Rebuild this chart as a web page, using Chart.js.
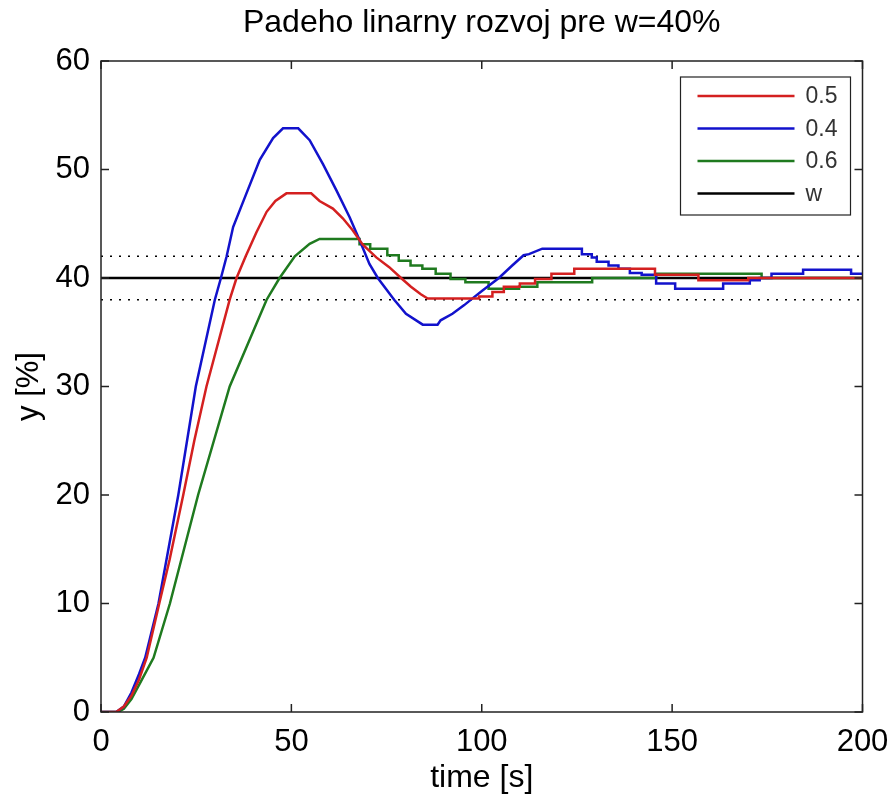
<!DOCTYPE html>
<html>
<head>
<meta charset="utf-8">
<script src="https://cdn.jsdelivr.net/npm/chart.js@4"></script>
<style>
  body { margin: 0; background: #fff; }
  #wrap { width: 895px; height: 802px; }
</style>
</head>
<body>
<div id="wrap"><canvas id="myChart" width="895" height="802"></canvas></div>
<script>
const chartTitle = "Padeho linarny rozvoj pre w=40%";
const xTitle = "time [s]";
const yTitle = "y [%]";
const seriesLabels = ["0.5", "0.4", "0.6", "w"];
const xTicks = [0, 50, 100, 150, 200];
const yTicks = [0, 10, 20, 30, 40, 50, 60];

// 0.5 (red)
const tRed = [0, 4, 6, 8, 10, 12, 15.3, 18, 21.6, 24.5, 27.7, 33.8, 35.6, 38, 40.8, 43.5, 45.8, 48.7, 55.2, 57.4, 60.9, 63.5, 66.1, 68.7, 72.3, 75.7, 78.8, 81.4, 84, 85.8, 99.3, 99.3, 102.8, 102.8, 105.8, 105.8, 110, 110, 114, 114, 118.3, 118.3, 124.3, 124.3, 145.5, 145.5, 156.9, 156.9, 170, 170, 200];
const yRed = [0, 0, 0.5, 1.5, 3, 5, 10, 14, 20, 25, 30, 38, 40, 42, 44.2, 46.1, 47.1, 47.8, 47.8, 47.1, 46.4, 45.5, 44.4, 43.1, 41.9, 41, 40, 39.2, 38.5, 38.1, 38.1, 38.3, 38.3, 38.7, 38.7, 39.2, 39.2, 39.5, 39.5, 39.9, 39.9, 40.4, 40.4, 40.85, 40.85, 40.3, 40.3, 39.8, 39.8, 40, 40];

// 0.4 (blue)
const tBlue = [0, 4, 6, 8, 10, 11.6, 15.1, 20.3, 24.9, 29.9, 31.5, 33, 34.7, 38.2, 41.7, 45.2, 47.8, 51.8, 54.8, 58.3, 61.8, 65.3, 67.9, 70.5, 72.7, 77, 80.1, 84.5, 88.4, 89.2, 92.3, 95.4, 97.5, 100.2, 104.5, 108, 111, 112.4, 115.9, 126.3, 126.3, 128.9, 128.9, 130.2, 130.2, 133.3, 133.3, 135.9, 135.9, 138.9, 138.9, 142, 142, 145.8, 145.8, 150.8, 150.8, 163.4, 163.4, 170.4, 170.4, 173, 173, 176.1, 176.1, 184.4, 184.4, 197, 197, 200];
const yBlue = [0, 0, 0.5, 1.8, 3.5, 5, 10, 20, 30, 38, 40, 42, 44.7, 47.8, 50.9, 52.9, 53.8, 53.8, 52.7, 50.5, 48.1, 45.6, 43.5, 41.3, 40, 38, 36.7, 35.7, 35.7, 36.1, 36.7, 37.5, 38.1, 38.85, 40, 41.15, 42.1, 42.2, 42.7, 42.7, 42.2, 42.2, 41.9, 41.9, 41.5, 41.5, 41.15, 41.15, 40.85, 40.85, 40.45, 40.45, 40.3, 40.3, 39.5, 39.5, 39, 39, 39.5, 39.5, 39.8, 39.8, 40, 40, 40.4, 40.4, 40.75, 40.75, 40.4, 40.4];

// 0.6 (green)
const tGreen = [0, 4.5, 6, 8, 10, 13.8, 18.1, 25.5, 33.8, 37.8, 43.5, 46.9, 50.9, 54.8, 57.4, 67.9, 67.9, 70.7, 70.7, 75.2, 75.2, 78.2, 78.2, 81.3, 81.3, 84.4, 84.4, 87.9, 87.9, 91.8, 91.8, 95.7, 95.7, 101.8, 101.8, 109.8, 109.8, 114.6, 114.6, 129, 129, 145.8, 145.8, 173.5, 173.5, 200];
const yGreen = [0, 0, 0.3, 1.2, 2.5, 5, 10, 20, 30, 33.3, 38, 40, 42, 43.15, 43.6, 43.6, 43.1, 43.1, 42.7, 42.7, 42.1, 42.1, 41.6, 41.6, 41.15, 41.15, 40.85, 40.85, 40.4, 40.4, 39.9, 39.9, 39.6, 39.6, 39, 39, 39.2, 39.2, 39.6, 39.6, 40, 40, 40.4, 40.4, 40, 40];

// setpoint w and +-5% band
const tRef = [0, 200];
const yRef = [40, 40];
const yBandHigh = [42, 42];
const yBandLow = [38, 38];

const pts = (ts, ys) => ts.map((t, i) => ({ x: t, y: ys[i] }));

const FONT = "'Liberation Sans', Arial, Helvetica, sans-serif";

const boxPlugin = {
  id: "matlabBox",
  afterDatasetsDraw(chart) {
    const { ctx, chartArea: a, scales } = chart;
    ctx.save();
    ctx.strokeStyle = "#222";
    ctx.lineWidth = 1.5;
    ctx.strokeRect(a.left, a.top, a.right - a.left, a.bottom - a.top);
    ctx.beginPath();
    const len = 8;
    scales.x.ticks.forEach(t => {
      const px = scales.x.getPixelForValue(t.value);
      ctx.moveTo(px, a.bottom); ctx.lineTo(px, a.bottom - len);
      ctx.moveTo(px, a.top); ctx.lineTo(px, a.top + len);
    });
    scales.y.ticks.forEach(t => {
      const py = scales.y.getPixelForValue(t.value);
      ctx.moveTo(a.left, py); ctx.lineTo(a.left + len, py);
      ctx.moveTo(a.right, py); ctx.lineTo(a.right - len, py);
    });
    ctx.stroke();
    ctx.restore();
  },
  afterDraw(chart) {
    const { ctx, chartArea: a } = chart;
    ctx.save();
    // title centred over the plot area
    ctx.fillStyle = "#000";
    ctx.font = "32px " + FONT;
    ctx.textAlign = "center";
    ctx.textBaseline = "middle";
    ctx.fillText(chartTitle, (a.left + a.right) / 2, 23);

    // legend inside the plot, top right
    const items = chart.data.datasets.filter(d => d.label);
    const boxW = 170, rowH = 32.5;
    const boxH = items.length * rowH + 8;
    const x0 = a.right - 12 - boxW, y0 = a.top + 16;
    ctx.fillStyle = "#fff";
    ctx.fillRect(x0, y0, boxW, boxH);
    ctx.strokeStyle = "#222";
    ctx.lineWidth = 1.2;
    ctx.strokeRect(x0, y0, boxW, boxH);
    ctx.font = "23px " + FONT;
    ctx.textAlign = "left";
    items.forEach((d, i) => {
      const y = y0 + 19 + i * rowH;
      ctx.strokeStyle = d.borderColor;
      ctx.lineWidth = 2.5;
      ctx.beginPath();
      ctx.moveTo(x0 + 17, y); ctx.lineTo(x0 + 114, y);
      ctx.stroke();
      ctx.fillStyle = "#333";
      ctx.fillText(d.label, x0 + 125, y + 1);
    });
    ctx.restore();
  }
};

const lineDs = (label, data, color) => ({
  label, data, borderColor: color, backgroundColor: color,
  borderWidth: 2.5, pointRadius: 0, tension: 0, fill: false
});

new Chart(document.getElementById("myChart"), {
  type: "line",
  data: {
    datasets: [
      lineDs(seriesLabels[0], pts(tRed, yRed), "#d42020"),
      lineDs(seriesLabels[1], pts(tBlue, yBlue), "#1212cc"),
      lineDs(seriesLabels[2], pts(tGreen, yGreen), "#1f7a1f"),
      lineDs(seriesLabels[3], pts(tRef, yRef), "#000000"),
      { data: pts(tRef, yBandHigh), borderColor: "#000", borderWidth: 1.6, borderDash: [2, 7], pointRadius: 0 },
      { data: pts(tRef, yBandLow), borderColor: "#000", borderWidth: 1.6, borderDash: [2, 7], pointRadius: 0 }
    ]
  },
  options: {
    responsive: false,
    animation: false,
    layout: { padding: { left: 0, right: 32.5, top: 61, bottom: 0 } },
    plugins: {
      legend: { display: false },
      tooltip: { enabled: false },
      title: { display: false }
    },
    scales: {
      x: {
        type: "linear", min: xTicks[0], max: xTicks[xTicks.length - 1],
        afterBuildTicks: s => { s.ticks = xTicks.map(v => ({ value: v })); },
        afterFit: s => { s.height = 90; s.paddingLeft = 0; s.paddingRight = 0; },
        grid: { display: false, drawTicks: false },
        border: { display: false },
        ticks: { color: "#000", padding: 12, maxRotation: 0, font: { family: FONT, size: 31 } },
        title: { display: true, text: xTitle, color: "#000", padding: { top: 0, bottom: 5 }, font: { family: FONT, size: 32 } }
      },
      y: {
        type: "linear", min: yTicks[0], max: yTicks[yTicks.length - 1],
        afterBuildTicks: s => { s.ticks = yTicks.map(v => ({ value: v })); },
        afterFit: s => { s.width = 101; s.paddingTop = 0; s.paddingBottom = 0; },
        grid: { display: false, drawTicks: false },
        border: { display: false },
        ticks: { color: "#000", padding: 11, font: { family: FONT, size: 31 } },
        title: { display: true, text: yTitle, color: "#000", padding: { top: 11, bottom: 0 }, font: { family: FONT, size: 31 } }
      }
    }
  },
  plugins: [boxPlugin]
});
</script>
</body>
</html>
